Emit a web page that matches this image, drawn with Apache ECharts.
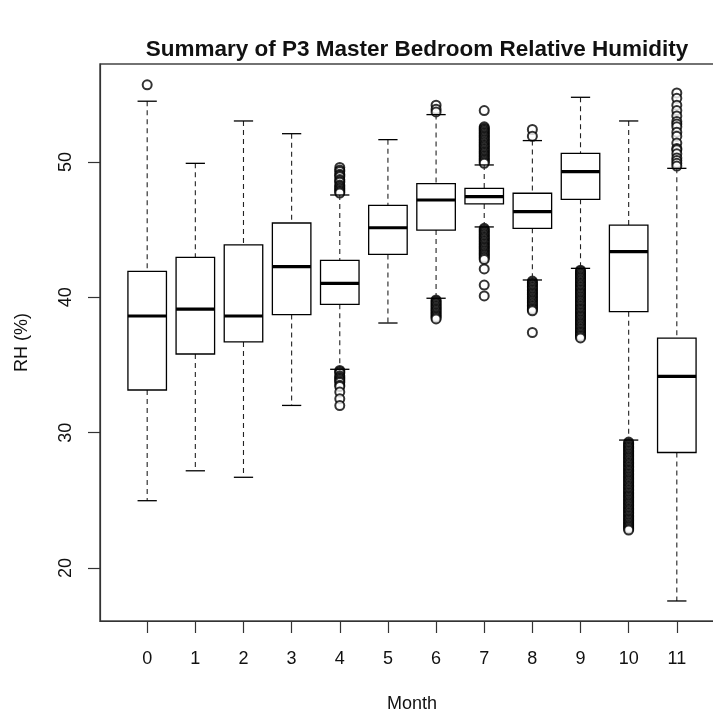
<!DOCTYPE html>
<html>

<head>
    <meta charset="UTF-8">
    <title>Summary of P3 Master Bedroom Relative Humidity</title>
    <script src="https://cdn.jsdelivr.net/npm/echarts@6/dist/echarts.min.js"></script>
    <style>
        html, body { margin: 0; padding: 0; background: #fff; }
        #chart { width: 713px; height: 715px; }
    </style>
</head>

<body>
    <div id="chart"></div>

    <script>
        // 月份 0..11，箱线图五数概括
        var months = [0, 1, 2, 3, 4, 5, 6, 7, 8, 9, 10, 11];
        var whiskerLow = [24.97, 27.18, 26.7, 32.01, 34.68, 38.1, 39.93, 45.2, 41.28, 42.14, 29.45, 17.56];
        var q1 = [33.15, 35.81, 36.7, 38.72, 39.48, 43.17, 44.97, 46.9, 45.1, 47.24, 38.94, 28.53];
        var medians = [38.62, 39.13, 38.62, 42.26, 41.03, 45.14, 47.19, 47.44, 46.33, 49.28, 43.37, 34.15];
        var q3 = [41.92, 42.95, 43.87, 45.49, 42.73, 46.8, 48.4, 48.05, 47.69, 50.64, 45.34, 36.99];
        var whiskerHigh = [54.49, 49.9, 53.03, 52.09, 47.56, 51.65, 53.5, 49.78, 51.58, 54.78, 53.03, 49.53];

        // 离群点
        var out0 = [55.7];
        var out4 = [49.6, 49.4, 49.3, 49.1, 49.0, 48.9, 48.7, 48.6, 48.5, 48.3, 48.2, 48.1, 48.0, 47.9, 47.8, 47.7,
            34.6, 34.5, 34.4, 34.2, 34.1, 34.0, 33.9, 33.8, 33.7, 33.5, 33.4, 33.0, 32.5, 32.0];
        var out6 = [54.2, 53.9, 53.7, 39.8, 39.7, 39.6, 39.5, 39.4, 39.3, 39.2, 39.1, 39.0, 38.9, 38.8, 38.7, 38.6, 38.5, 38.4];
        var out7 = [53.8, 52.6, 52.5, 52.4, 52.3, 52.2, 52.1, 52.0, 51.9, 51.8, 51.7, 51.6, 51.5, 51.4, 51.3, 51.2, 51.1, 51.0,
            50.9, 50.8, 50.7, 50.6, 50.5, 50.4, 50.3, 50.2, 50.1, 50.0, 49.9,
            45.1, 45.0, 44.9, 44.8, 44.7, 44.6, 44.5, 44.4, 44.3, 44.2, 44.1, 44.0, 43.9, 43.8, 43.7, 43.6, 43.5, 43.4,
            43.3, 43.2, 43.1, 43.0, 42.9, 42.8, 42.1, 40.9, 40.1];
        var out8 = [52.4, 51.9, 41.2, 41.1, 41.0, 40.9, 40.8, 40.7, 40.6, 40.5, 40.4, 40.3, 40.2, 40.1, 40.0, 39.9, 39.8,
            39.7, 39.6, 39.5, 39.4, 39.3, 39.2, 39.1, 39.0, 37.4];
        var out9 = [42.0, 41.9, 41.8, 41.7, 41.6, 41.5, 41.4, 41.3, 41.2, 41.1, 41.0, 40.9, 40.8, 40.7, 40.6, 40.5, 40.4,
            40.3, 40.2, 40.1, 40.0, 39.9, 39.8, 39.7, 39.6, 39.5, 39.4, 39.3, 39.2, 39.1, 39.0, 38.9, 38.8, 38.7, 38.6,
            38.5, 38.4, 38.3, 38.2, 38.1, 38.0, 37.9, 37.8, 37.7, 37.6, 37.5, 37.4, 37.3, 37.2, 37.1, 37.0];
        var out10 = [29.3, 29.2, 29.1, 29.0, 28.9, 28.8, 28.7, 28.6, 28.5, 28.4, 28.3, 28.2, 28.1, 28.0, 27.9, 27.8, 27.7,
            27.6, 27.5, 27.4, 27.3, 27.2, 27.1, 27.0, 26.9, 26.8, 26.7, 26.6, 26.5, 26.4, 26.3, 26.2, 26.1, 26.0, 25.9,
            25.8, 25.7, 25.6, 25.5, 25.4, 25.3, 25.2, 25.1, 25.0, 24.9, 24.8, 24.7, 24.6, 24.5, 24.4, 24.3, 24.2, 24.1,
            24.0, 23.9, 23.8, 23.7, 23.6, 23.5, 23.4, 23.3, 23.2, 23.1, 23.0, 22.9, 22.8];
        var out11 = [55.1, 54.7, 54.2, 53.8, 53.4, 53.0, 52.8, 52.6, 52.2, 51.9, 51.4, 51.0, 50.9, 50.6, 50.3, 50.1, 49.9, 49.7];

        var outliers = [out0, [], [], [], out4, [], out6, out7, out8, out9, out10, out11];
        var yTicks = [20, 30, 40, 50];

        var boxData = months.map(function (m, i) {
            return [m, whiskerLow[i], q1[i], medians[i], q3[i], whiskerHigh[i]];
        });
        var outlierData = [];
        outliers.forEach(function (vals, i) {
            vals.forEach(function (v) { outlierData.push([months[i], v]); });
        });

        function renderBox(params, api) {
            var x = api.value(0);
            var lo = api.coord([x, api.value(1)]);
            var b1 = api.coord([x, api.value(2)]);
            var md = api.coord([x, api.value(3)]);
            var b3 = api.coord([x, api.value(4)]);
            var hi = api.coord([x, api.value(5)]);
            var half = api.size([0.4, 0])[0];
            var cap = half / 2;
            var cx = lo[0];
            var dash = { stroke: '#222', lineWidth: 1.1, lineDash: [5, 4] };
            var solid = { stroke: '#000', lineWidth: 1.3 };
            return {
                type: 'group',
                children: [
                    { type: 'line', shape: { x1: cx, y1: hi[1], x2: cx, y2: b3[1] }, style: dash },
                    { type: 'line', shape: { x1: cx, y1: b1[1], x2: cx, y2: lo[1] }, style: dash },
                    { type: 'line', shape: { x1: cx - cap, y1: hi[1], x2: cx + cap, y2: hi[1] }, style: solid },
                    { type: 'line', shape: { x1: cx - cap, y1: lo[1], x2: cx + cap, y2: lo[1] }, style: solid },
                    { type: 'rect', shape: { x: cx - half, y: b3[1], width: half * 2, height: b1[1] - b3[1] },
                      style: { fill: 'none', stroke: '#000', lineWidth: 1.3 } },
                    { type: 'line', shape: { x1: cx - half, y1: md[1], x2: cx + half, y2: md[1] },
                      style: { stroke: '#000', lineWidth: 3.2 } }
                ]
            };
        }

        var chart = echarts.init(document.getElementById('chart'));
        var font = 'Liberation Sans';
        var option = {
            backgroundColor: '#fff',
            animation: false,
            title: {
                text: 'Summary of P3 Master Bedroom Relative Humidity',
                left: 412,
                textAlign: 'center',
                top: 33,
                textStyle: { fontFamily: font, fontSize: 22.5, fontWeight: 'bold', color: '#111' }
            },
            grid: {
                left: 100, top: 64, width: 624, height: 557,
                outerBoundsMode: 'none',
                show: true, borderColor: '#444', borderWidth: 1.5
            },
            xAxis: {
                type: 'value',
                min: -0.98,
                max: 11.98,
                name: 'Month',
                nameLocation: 'middle',
                nameGap: 74,
                nameTextStyle: { fontFamily: font, fontSize: 18, color: '#111' },
                axisLine: { show: true, onZero: false, lineStyle: { color: '#333', width: 1.2 } },
                axisTick: { show: true, length: 12, customValues: months, lineStyle: { color: '#333', width: 1.2 } },
                axisLabel: { customValues: months, margin: 29, fontFamily: font, fontSize: 18, color: '#111' },
                splitLine: { show: false }
            },
            yAxis: {
                type: 'value',
                min: 16.08,
                max: 57.24,
                name: 'RH (%)',
                nameLocation: 'middle',
                nameGap: 69,
                nameRotate: 90,
                nameTextStyle: { fontFamily: font, fontSize: 18, color: '#111' },
                axisLine: { show: true, onZero: false, lineStyle: { color: '#333', width: 1.2 } },
                axisTick: { show: true, length: 12, customValues: yTicks, lineStyle: { color: '#333', width: 1.2 } },
                axisLabel: { customValues: yTicks, rotate: 90, margin: 25, fontFamily: font, fontSize: 18, color: '#111' },
                splitLine: { show: false }
            },
            series: [
                {
                    type: 'scatter',
                    data: outlierData,
                    symbol: 'emptyCircle',
                    symbolSize: 9,
                    itemStyle: { color: '#000', borderColor: '#000', borderWidth: 1 },
                    z: 2
                },
                {
                    type: 'custom',
                    renderItem: renderBox,
                    data: boxData,
                    encode: { x: 0, y: [1, 2, 3, 4, 5] },
                    z: 3
                }
            ]
        };
        chart.setOption(option);
    </script>
</body>

</html>
